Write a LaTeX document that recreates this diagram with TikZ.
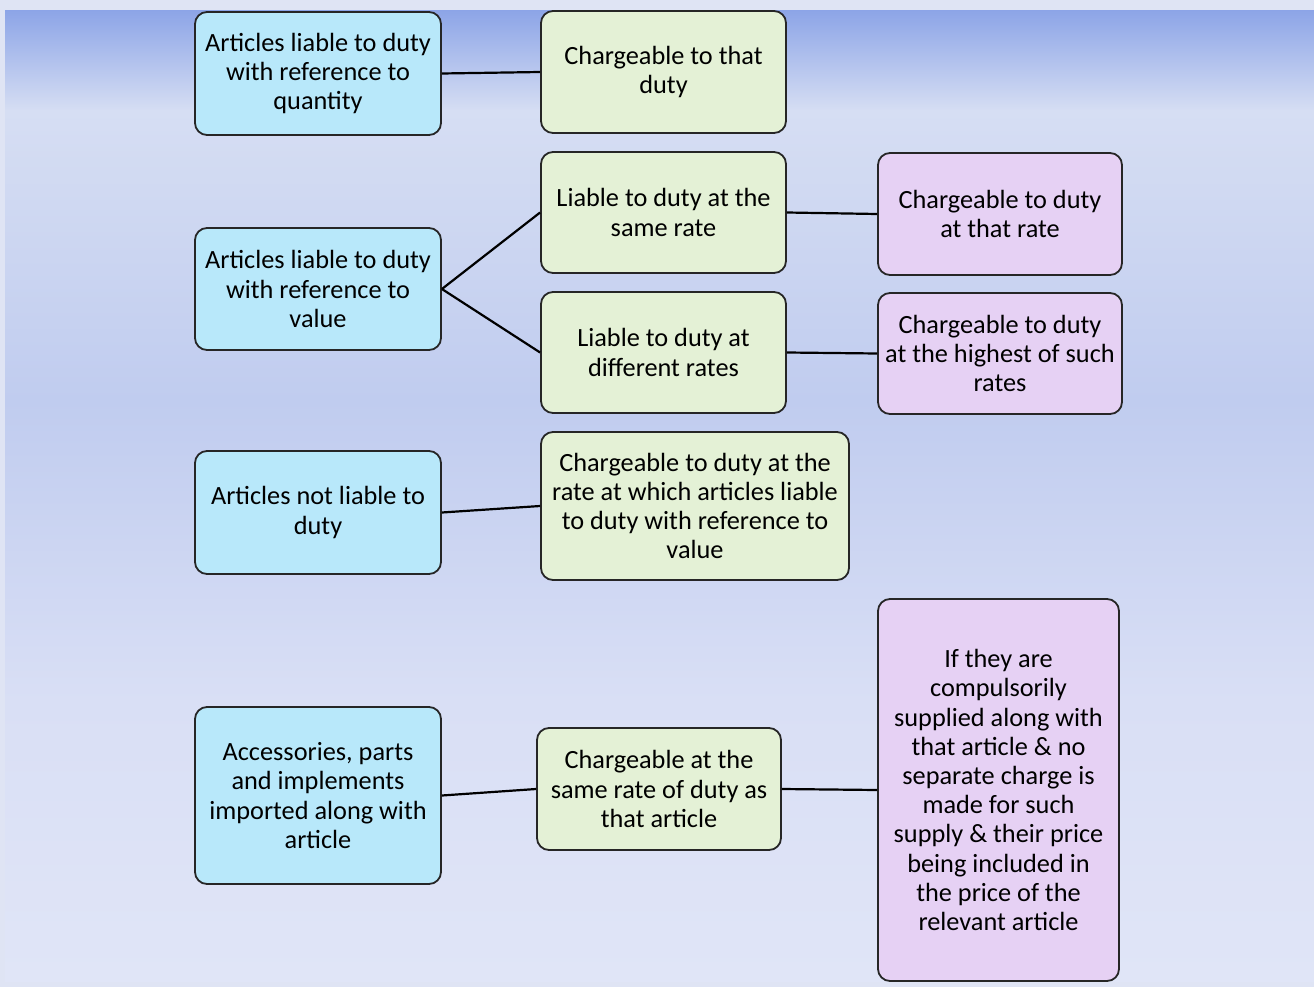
\documentclass[tikz,border=0pt]{standalone}
\usepackage{fontspec}
\setmainfont{Carlito}
\begin{document}
\begin{tikzpicture}[x=1pt,y=-1pt,
  box/.style={draw=black!85, line width=1.8pt, rounded corners=12pt, align=center,
    inner sep=2pt, font=\fontsize{26.3}{29.2}\selectfont, text=black},
  bluebox/.style={box, fill=cyanbox},
  greenbox/.style={box, fill=greenbox},
  purplebox/.style={box, fill=purplebox},
  link/.style={line width=2.2pt, black}]
\definecolor{cyanbox}{HTML}{B8E8FA}
\definecolor{greenbox}{HTML}{E4F1D6}
\definecolor{purplebox}{HTML}{E6D1F4}
\definecolor{bgedge}{HTML}{DFE4F4}
\definecolor{bgA}{HTML}{8DA5E7}
\definecolor{bgB}{HTML}{D6DEF3}
\definecolor{bgC}{HTML}{C0CCEF}
\definecolor{bgD}{HTML}{D9DFF5}
\definecolor{bgE}{HTML}{E0E5F7}
% background
\fill[bgedge] (0,0) rectangle (1314,987);
\useasboundingbox (0,0) rectangle (1314,987);
\shade[top color=bgA, bottom color=bgB] (5,11) rectangle (1314,111);
\shade[top color=bgB, bottom color=bgC] (5,110.5) rectangle (1314,401);
\shade[top color=bgC, bottom color=bgD] (5,400.5) rectangle (1314,701);
\shade[top color=bgD, bottom color=bgE] (5,700.5) rectangle (1314,981);
% nodes
\node[bluebox, minimum width=246, minimum height=123] (a1) at (318,73.5) {Articles liable to duty\\with reference to\\quantity};
\node[greenbox, minimum width=245, minimum height=122] (b1) at (663.5,72) {Chargeable to that\\duty};
\node[bluebox, minimum width=246, minimum height=122] (a2) at (318,289) {Articles liable to duty\\with reference to\\value};
\node[greenbox, minimum width=245, minimum height=121] (b2) at (663.5,212.5) {Liable to duty at the\\same rate};
\node[greenbox, minimum width=245, minimum height=121] (b3) at (663.5,352.5) {Liable to duty at\\different rates};
\node[purplebox, minimum width=244, minimum height=122] (c2) at (1000,214) {Chargeable to duty\\at that rate};
\node[purplebox, minimum width=244, minimum height=121] (c3) at (1000,353.5) {Chargeable to duty\\at the highest of such\\rates};
\node[bluebox, minimum width=246, minimum height=123] (a3) at (318,512.5) {Articles not liable to\\duty};
\node[greenbox, minimum width=308, minimum height=148] (b4) at (695,506) {Chargeable to duty at the\\rate at which articles liable\\to duty with reference to\\value};
\node[bluebox, minimum width=246, minimum height=177] (a4) at (318,795.5) {Accessories, parts\\and implements\\imported along with\\article};
\node[greenbox, minimum width=244, minimum height=122] (b5) at (659,789) {Chargeable at the\\same rate of duty as\\that article};
\node[purplebox, minimum width=241, minimum height=382] (c4) at (998.5,790) {If they are\\compulsorily\\supplied along with\\that article \& no\\separate charge is\\made for such\\supply \& their price\\being included in\\the price of the\\relevant article};
% connectors
\draw[link] (a1.east) -- (b1.west);
\draw[link] (a2.east) -- (b2.west);
\draw[link] (a2.east) -- (b3.west);
\draw[link] (b2.east) -- (c2.west);
\draw[link] (b3.east) -- (c3.west);
\draw[link] (a3.east) -- (b4.west);
\draw[link] (a4.east) -- (b5.west);
\draw[link] (b5.east) -- (c4.west);
\end{tikzpicture}
\end{document}
